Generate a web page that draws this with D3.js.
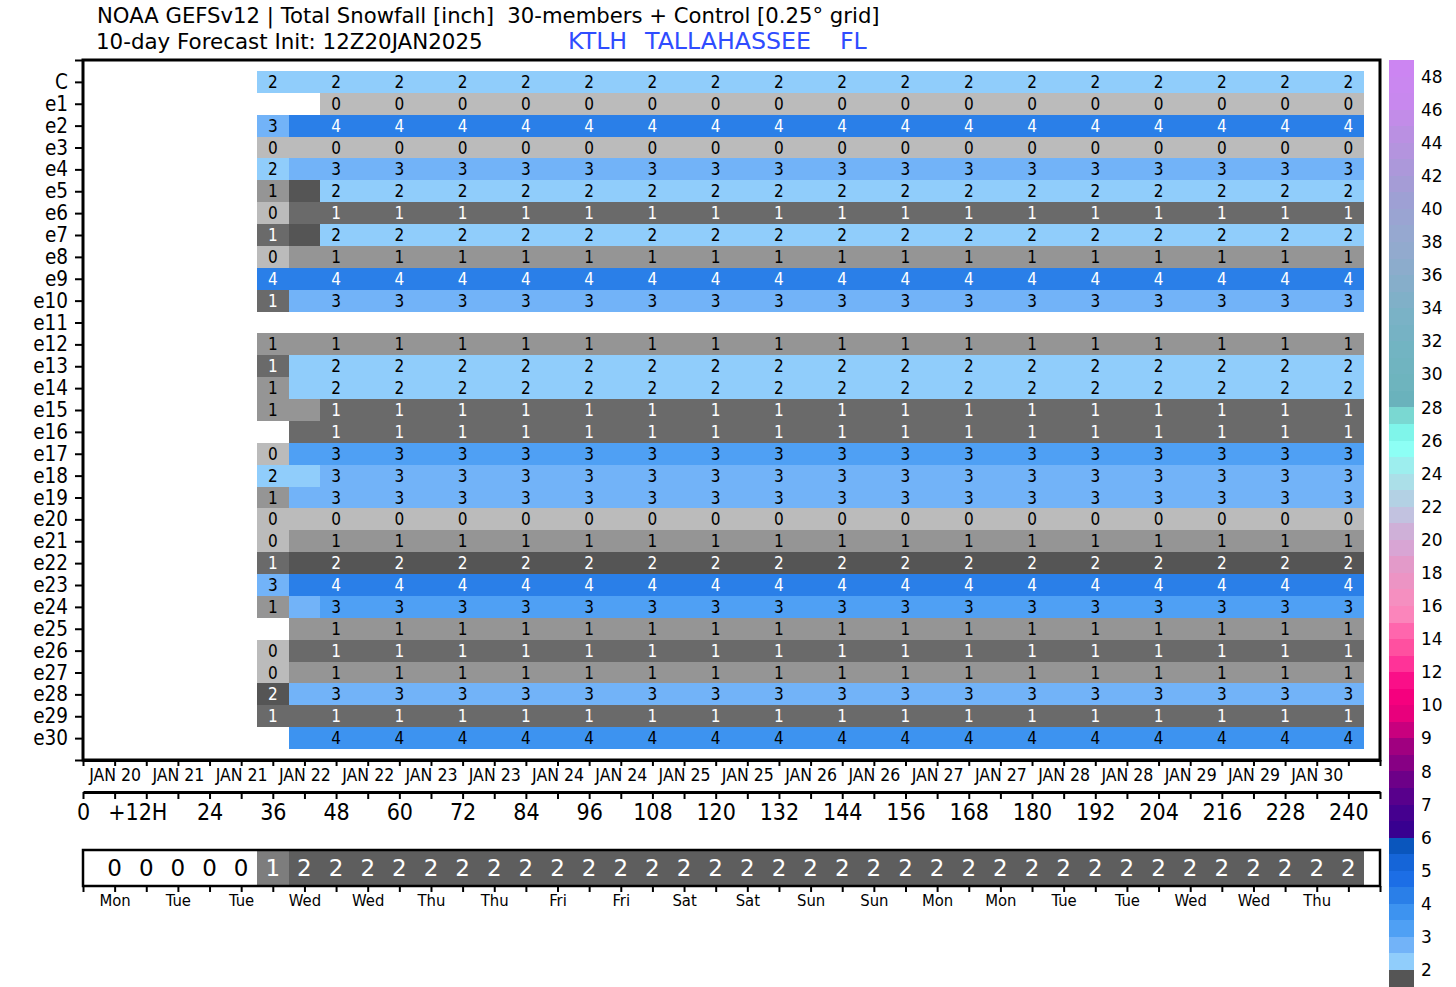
<!DOCTYPE html>
<html>
<head>
<meta charset="utf-8">
<script src="https://cdn.jsdelivr.net/npm/d3@7"></script>
<style>
  html, body { margin: 0; padding: 0; background: #fff; overflow: hidden; }
  svg { display: block; }
  text { font-family: "DejaVu Sans", sans-serif; fill: #000; }
  .cond text, text.cond { font-family: "DejaVu Sans Condensed", "DejaVu Sans", sans-serif; }
</style>
</head>
<body>
<svg id="chart" width="1456" height="987"></svg>
<script>
//data, forecast hour of each column
const hours = [36,42,48,54,60,66,72,78,84,90,96,102,108,114,120,126,132,138,144,150,156,162,168,174,180,186,192,198,204,210,216,222,228,234,240]
const members = ['C','e1','e2','e3','e4','e5','e6','e7','e8','e9','e10','e11','e12','e13','e14','e15','e16','e17','e18','e19','e20','e21','e22','e23','e24','e25','e26','e27','e28','e29','e30']

const eC  = [2.2,2.2,2.2,2.2,2.2,2.2,2.2,2.2,2.2,2.2,2.2,2.2,2.2,2.2,2.2,2.2,2.2,2.2,2.2,2.2,2.2,2.2,2.2,2.2,2.2,2.2,2.2,2.2,2.2,2.2,2.2,2.2,2.2,2.2,2.2]
const e1  = [null,null,.2,.2,.2,.2,.2,.2,.2,.2,.2,.2,.2,.2,.2,.2,.2,.2,.2,.2,.2,.2,.2,.2,.2,.2,.2,.2,.2,.2,.2,.2,.2,.2,.2]
const e2  = [2.7,4.2,4.2,4.2,4.2,4.2,4.2,4.2,4.2,4.2,4.2,4.2,4.2,4.2,4.2,4.2,4.2,4.2,4.2,4.2,4.2,4.2,4.2,4.2,4.2,4.2,4.2,4.2,4.2,4.2,4.2,4.2,4.2,4.2,4.2]
const e3  = [.2,.2,.2,.2,.2,.2,.2,.2,.2,.2,.2,.2,.2,.2,.2,.2,.2,.2,.2,.2,.2,.2,.2,.2,.2,.2,.2,.2,.2,.2,.2,.2,.2,.2,.2]
const e4  = [2.2,2.7,2.7,2.7,2.7,2.7,2.7,2.7,2.7,2.7,2.7,2.7,2.7,2.7,2.7,2.7,2.7,2.7,2.7,2.7,2.7,2.7,2.7,2.7,2.7,2.7,2.7,2.7,2.7,2.7,2.7,2.7,2.7,2.7,2.7]
const e5  = [.8,1.7,2.2,2.2,2.2,2.2,2.2,2.2,2.2,2.2,2.2,2.2,2.2,2.2,2.2,2.2,2.2,2.2,2.2,2.2,2.2,2.2,2.2,2.2,2.2,2.2,2.2,2.2,2.2,2.2,2.2,2.2,2.2,2.2,2.2]
const e6  = [.2,1.2,1.2,1.2,1.2,1.2,1.2,1.2,1.2,1.2,1.2,1.2,1.2,1.2,1.2,1.2,1.2,1.2,1.2,1.2,1.2,1.2,1.2,1.2,1.2,1.2,1.2,1.2,1.2,1.2,1.2,1.2,1.2,1.2,1.2]
const e7  = [1.2,1.7,2.2,2.2,2.2,2.2,2.2,2.2,2.2,2.2,2.2,2.2,2.2,2.2,2.2,2.2,2.2,2.2,2.2,2.2,2.2,2.2,2.2,2.2,2.2,2.2,2.2,2.2,2.2,2.2,2.2,2.2,2.2,2.2,2.2]
const e8  = [.2,.8,.8,.8,.8,.8,.8,.8,.8,.8,.8,.8,.8,.8,.8,.8,.8,.8,.8,.8,.8,.8,.8,.8,.8,.8,.8,.8,.8,.8,.8,.8,.8,.8,.8]
const e9  = [4.2,4.2,4.2,4.2,4.2,4.2,4.2,4.2,4.2,4.2,4.2,4.2,4.2,4.2,4.2,4.2,4.2,4.2,4.2,4.2,4.2,4.2,4.2,4.2,4.2,4.2,4.2,4.2,4.2,4.2,4.2,4.2,4.2,4.2,4.2]
const e10 = [1.2,2.7,2.7,2.7,2.7,2.7,2.7,2.7,2.7,2.7,2.7,2.7,2.7,2.7,2.7,2.7,2.7,2.7,2.7,2.7,2.7,2.7,2.7,2.7,2.7,2.7,2.7,2.7,2.7,2.7,2.7,2.7,2.7,2.7,2.7]
const e11 = []
const e12 = [.8,.8,.8,.8,.8,.8,.8,.8,.8,.8,.8,.8,.8,.8,.8,.8,.8,.8,.8,.8,.8,.8,.8,.8,.8,.8,.8,.8,.8,.8,.8,.8,.8,.8,.8]
const e13 = [1.2,2.2,2.2,2.2,2.2,2.2,2.2,2.2,2.2,2.2,2.2,2.2,2.2,2.2,2.2,2.2,2.2,2.2,2.2,2.2,2.2,2.2,2.2,2.2,2.2,2.2,2.2,2.2,2.2,2.2,2.2,2.2,2.2,2.2,2.2]
const e14 = [.8,2.2,2.2,2.2,2.2,2.2,2.2,2.2,2.2,2.2,2.2,2.2,2.2,2.2,2.2,2.2,2.2,2.2,2.2,2.2,2.2,2.2,2.2,2.2,2.2,2.2,2.2,2.2,2.2,2.2,2.2,2.2,2.2,2.2,2.2]
const e15 = [.8,.8,1.2,1.2,1.2,1.2,1.2,1.2,1.2,1.2,1.2,1.2,1.2,1.2,1.2,1.2,1.2,1.2,1.2,1.2,1.2,1.2,1.2,1.2,1.2,1.2,1.2,1.2,1.2,1.2,1.2,1.2,1.2,1.2,1.2]
const e16 = [null,1.2,1.2,1.2,1.2,1.2,1.2,1.2,1.2,1.2,1.2,1.2,1.2,1.2,1.2,1.2,1.2,1.2,1.2,1.2,1.2,1.2,1.2,1.2,1.2,1.2,1.2,1.2,1.2,1.2,1.2,1.2,1.2,1.2,1.2]
const e17 = [.2,3.2,3.2,3.2,3.2,3.2,3.2,3.2,3.2,3.2,3.2,3.2,3.2,3.2,3.2,3.2,3.2,3.2,3.2,3.2,3.2,3.2,3.2,3.2,3.2,3.2,3.2,3.2,3.2,3.2,3.2,3.2,3.2,3.2,3.2]
const e18 = [2.2,2.2,2.7,2.7,2.7,2.7,2.7,2.7,2.7,2.7,2.7,2.7,2.7,2.7,2.7,2.7,2.7,2.7,2.7,2.7,2.7,2.7,2.7,2.7,2.7,2.7,2.7,2.7,2.7,2.7,2.7,2.7,2.7,2.7,2.7]
const e19 = [.8,2.7,2.7,2.7,2.7,2.7,2.7,2.7,2.7,2.7,2.7,2.7,2.7,2.7,2.7,2.7,2.7,2.7,2.7,2.7,2.7,2.7,2.7,2.7,2.7,2.7,2.7,2.7,2.7,2.7,2.7,2.7,2.7,2.7,2.7]
const e20 = [.2,.2,.2,.2,.2,.2,.2,.2,.2,.2,.2,.2,.2,.2,.2,.2,.2,.2,.2,.2,.2,.2,.2,.2,.2,.2,.2,.2,.2,.2,.2,.2,.2,.2,.2]
const e21 = [.2,.8,.8,.8,.8,.8,.8,.8,.8,.8,.8,.8,.8,.8,.8,.8,.8,.8,.8,.8,.8,.8,.8,.8,.8,.8,.8,.8,.8,.8,.8,.8,.8,.8,.8]
const e22 = [1.2,1.7,1.7,1.7,1.7,1.7,1.7,1.7,1.7,1.7,1.7,1.7,1.7,1.7,1.7,1.7,1.7,1.7,1.7,1.7,1.7,1.7,1.7,1.7,1.7,1.7,1.7,1.7,1.7,1.7,1.7,1.7,1.7,1.7,1.7]
const e23 = [2.7,4.2,4.2,4.2,4.2,4.2,4.2,4.2,4.2,4.2,4.2,4.2,4.2,4.2,4.2,4.2,4.2,4.2,4.2,4.2,4.2,4.2,4.2,4.2,4.2,4.2,4.2,4.2,4.2,4.2,4.2,4.2,4.2,4.2,4.2]
const e24 = [.8,2.7,3.2,3.2,3.2,3.2,3.2,3.2,3.2,3.2,3.2,3.2,3.2,3.2,3.2,3.2,3.2,3.2,3.2,3.2,3.2,3.2,3.2,3.2,3.2,3.2,3.2,3.2,3.2,3.2,3.2,3.2,3.2,3.2,3.2]
const e25 = [null,.8,.8,.8,.8,.8,.8,.8,.8,.8,.8,.8,.8,.8,.8,.8,.8,.8,.8,.8,.8,.8,.8,.8,.8,.8,.8,.8,.8,.8,.8,.8,.8,.8,.8]
const e26 = [.2,1.2,1.2,1.2,1.2,1.2,1.2,1.2,1.2,1.2,1.2,1.2,1.2,1.2,1.2,1.2,1.2,1.2,1.2,1.2,1.2,1.2,1.2,1.2,1.2,1.2,1.2,1.2,1.2,1.2,1.2,1.2,1.2,1.2,1.2]
const e27 = [.2,.8,.8,.8,.8,.8,.8,.8,.8,.8,.8,.8,.8,.8,.8,.8,.8,.8,.8,.8,.8,.8,.8,.8,.8,.8,.8,.8,.8,.8,.8,.8,.8,.8,.8]
const e28 = [1.7,2.7,2.7,2.7,2.7,2.7,2.7,2.7,2.7,2.7,2.7,2.7,2.7,2.7,2.7,2.7,2.7,2.7,2.7,2.7,2.7,2.7,2.7,2.7,2.7,2.7,2.7,2.7,2.7,2.7,2.7,2.7,2.7,2.7,2.7]
const e29 = [1.2,1.2,1.2,1.2,1.2,1.2,1.2,1.2,1.2,1.2,1.2,1.2,1.2,1.2,1.2,1.2,1.2,1.2,1.2,1.2,1.2,1.2,1.2,1.2,1.2,1.2,1.2,1.2,1.2,1.2,1.2,1.2,1.2,1.2,1.2]
const e30 = [null,3.7,3.7,3.7,3.7,3.7,3.7,3.7,3.7,3.7,3.7,3.7,3.7,3.7,3.7,3.7,3.7,3.7,3.7,3.7,3.7,3.7,3.7,3.7,3.7,3.7,3.7,3.7,3.7,3.7,3.7,3.7,3.7,3.7,3.7]
const series = [eC,e1,e2,e3,e4,e5,e6,e7,e8,e9,e10,e11,e12,e13,e14,e15,e16,e17,e18,e19,e20,e21,e22,e23,e24,e25,e26,e27,e28,e29,e30]

//bottom strip
const stripHours = [6,12,18,24,30,36,42,48,54,60,66,72,78,84,90,96,102,108,114,120,126,132,138,144,150,156,162,168,174,180,186,192,198,204,210,216,222,228,234,240]
const stripValues = [0,0,0,0,0,1,2,2,2,2,2,2,2,2,2,2,2,2,2,2,2,2,2,2,2,2,2,2,2,2,2,2,2,2,2,2,2,2,2,2]

//tick labels
const dateLabels = ['JAN 20','JAN 21','JAN 21','JAN 22','JAN 22','JAN 23','JAN 23','JAN 24','JAN 24','JAN 25','JAN 25','JAN 26','JAN 26','JAN 27','JAN 27','JAN 28','JAN 28','JAN 29','JAN 29','JAN 30']
const dayLabels = ['Mon','Tue','Tue','Wed','Wed','Thu','Thu','Fri','Fri','Sat','Sat','Sun','Sun','Mon','Mon','Tue','Tue','Wed','Wed','Thu']
const hourLabels = ['0','+12H','24','36','48','60','72','84','96','108','120','132','144','156','168','180','192','204','216','228','240']

//colorbar
const barLevels = [1.5,2,2.5,3,3.5,4,4.5,5,5.5,6,6.5,7,7.5,8,8.5,9,9.5,10,11,12,13,14,15,16,17,18,19,20,21,22,23,24,25,26,27,28,29,30,31,32,33,34,35,36,37,38,39,40,41,42,43,44,45,46,47,48,49]
const barColors = ['#555555','#90cdfb','#72b3f8','#4fa0f4','#3d93f0','#2a7fe8','#1c6ee6','#1565d8','#0a56bd','#380090','#45008f','#58008c','#6d0088','#870084','#a00080','#c8007e','#e8007c','#f5007e','#fa0f88','#ff3398','#ff50a0','#ff66ad','#fb85bb','#f58fc0','#ec94c4','#e39ac9','#d8a5d4','#cfb0d8','#c2c2e0','#b3d1e4','#abdfe8','#9deeee','#8dfff5','#7ff5ea','#7ad8d2','#6ab2bc','#6eb4be','#70b4c0','#72b4c2','#76b2c4','#7ab2c6','#80b0c8','#86aeca','#8caccc','#92aace','#96a8d0','#9aa4d2','#9ea0d4','#a59cd6','#ac98da','#b494de','#ba90e2','#c28ce8','#c888ee','#ca87f0','#cc85f2']
const barTicks = [2,3,4,5,6,7,8,9,10,12,14,16,18,20,22,24,26,28,30,32,34,36,38,40,42,44,46,48]
const grays = ['#bbbbbb','#959595','#6a6a6a']

//scales
const x = d3.scaleLinear().domain([0, 246]).range([83, 1380])
const y = d3.scaleLinear().domain([-1, 31]).range([60, 760])
const barY = d3.scalePoint().domain(barLevels).range([986.5, 60])
const cellColor = d3.scaleThreshold()
    .domain([0.5, 1].concat(barLevels.slice(0, -1)))
    .range(grays.concat(barColors))
const stripColor = d3.scaleThreshold().domain([0.5, 1.5]).range(['#ffffff', '#7d7d7d', '#5e5e5e'])
const textColor = c => d3.lab(c).l < 56 ? '#fff' : '#000'

const svg = d3.select('#chart')

//title
svg.append('text').attr('x', 97).attr('y', 23).style('font-size', '21.2px')
    .attr('xml:space', 'preserve')
    .text('NOAA GEFSv12 | Total Snowfall [inch]  30-members + Control [0.25\u00b0 grid]')
svg.append('text').attr('x', 96).attr('y', 48.5).style('font-size', '21.4px')
    .text('10-day Forecast Init: 12Z20JAN2025')
const place = svg.append('text').attr('y', 48.5).style('font-size', '23.7px')
place.append('tspan').attr('x', 568).style('fill', '#2f4cff').text('KTLH')
place.append('tspan').attr('x', 645).style('fill', '#2f4cff').text('TALLAHASSEE')
place.append('tspan').attr('x', 840).style('fill', '#2f4cff').text('FL')

//heat cells
const cells = []
series.forEach((row, r) => row.forEach((v, i) => {
    if (v !== null) cells.push({ r: r, h: hours[i], v: v })
}))

svg.append('g').selectAll('rect')
    .data(cells)
    .enter()
    .append('rect')
    .attr('x', d => x(d.h - 3))
    .attr('width', d => x(d.h + 3) - x(d.h - 3))
    .attr('y', d => y(d.r - 0.5))
    .attr('height', d => y(d.r + 0.5) - y(d.r - 0.5))
    .attr('fill', d => cellColor(d.v))
    .attr('shape-rendering', 'crispEdges')

//only every second column is labelled
svg.append('g').attr('class', 'cond').selectAll('text')
    .data(cells.filter(d => d.h % 12 === 0))
    .enter()
    .append('text')
    .attr('x', d => x(d.h))
    .attr('y', d => y(d.r))
    .attr('dy', '0.36em')
    .attr('text-anchor', 'middle')
    .style('font-size', '17px')
    .style('fill', d => textColor(cellColor(d.v)))
    .text(d => Math.round(d.v))

//frame
svg.append('rect')
    .attr('x', x(0)).attr('y', y(-1))
    .attr('width', x(246) - x(0)).attr('height', y(31) - y(-1))
    .attr('fill', 'none').attr('stroke', '#000').attr('stroke-width', 3)

//axes
const styleAxis = (g, size) => {
    g.attr('class', 'cond')
    g.selectAll('path.domain').attr('stroke-width', 3)
    g.selectAll('line').attr('stroke-width', 2)
    g.selectAll('text').style('font-size', size + 'px').style('fill', '#000')
}

const sixHourly = d3.range(0, 252, 6)

const yAxis = d3.axisLeft(y)
    .tickValues(d3.range(-1, 32))
    .tickSize(8)
    .tickPadding(7)
    .tickFormat(i => members[i] || '')
svg.append('g').attr('transform', 'translate(' + x(0) + ',0)').call(yAxis)
    .call(g => g.select('path.domain').remove())
    .call(styleAxis, 20.5)

const dateAxis = d3.axisBottom(x)
    .tickValues(sixHourly)
    .tickSize(6)
    .tickSizeOuter(0)
    .tickPadding(3)
    .tickFormat(h => h % 12 === 6 ? dateLabels[(h - 6) / 12] || '' : '')
svg.append('g').attr('transform', 'translate(0,' + y(31) + ')').call(dateAxis)
    .call(styleAxis, 17.5)

const hourAxis = d3.axisBottom(x)
    .tickValues(sixHourly)
    .tickSize(7)
    .tickSizeOuter(0)
    .tickPadding(5)
    .tickFormat(h => h % 12 === 0 ? hourLabels[h / 12] || '' : '')
svg.append('g').attr('transform', 'translate(0,792)').call(hourAxis)
    .call(styleAxis, 23)
    .call(g => g.selectAll('.tick text').filter(h => h === 12).attr('dx', -9))

//bottom strip
const stripTop = 850
const stripBottom = 886
svg.append('g').selectAll('rect')
    .data(stripHours.map((h, i) => ({ h: h, v: stripValues[i] })))
    .enter()
    .append('rect')
    .attr('x', d => x(d.h - 3))
    .attr('width', d => x(d.h + 3) - x(d.h - 3))
    .attr('y', stripTop)
    .attr('height', stripBottom - stripTop)
    .attr('fill', d => stripColor(d.v))
    .attr('shape-rendering', 'crispEdges')
svg.append('g').selectAll('text')
    .data(stripHours.map((h, i) => ({ h: h, v: stripValues[i] })))
    .enter()
    .append('text')
    .attr('x', d => x(d.h))
    .attr('y', (stripTop + stripBottom) / 2)
    .attr('dy', '0.36em')
    .attr('text-anchor', 'middle')
    .style('font-size', '23px')
    .style('fill', d => d.v > 0 ? '#fff' : '#000')
    .text(d => d.v)
svg.append('rect')
    .attr('x', x(0)).attr('y', stripTop)
    .attr('width', x(246) - x(0)).attr('height', stripBottom - stripTop)
    .attr('fill', 'none').attr('stroke', '#000').attr('stroke-width', 2.5)

const dayAxis = d3.axisBottom(x)
    .tickValues(sixHourly)
    .tickSize(6)
    .tickSizeOuter(0)
    .tickPadding(2)
    .tickFormat(h => h % 12 === 6 ? dayLabels[(h - 6) / 12] || '' : '')
svg.append('g').attr('transform', 'translate(0,' + stripBottom + ')').call(dayAxis)
    .call(styleAxis, 16.5)
    .call(g => g.select('path.domain').remove())

//colorbar
svg.append('g').selectAll('rect')
    .data(barColors)
    .enter()
    .append('rect')
    .attr('x', 1389)
    .attr('width', 25)
    .attr('y', (_, i) => barY(barLevels[i + 1]))
    .attr('height', (_, i) => barY(barLevels[i]) - barY(barLevels[i + 1]))
    .attr('fill', d => d)
    .attr('shape-rendering', 'crispEdges')
svg.append('g').selectAll('text')
    .data(barTicks)
    .enter()
    .append('text')
    .attr('x', 1421)
    .attr('y', d => barY(d))
    .attr('dy', '0.36em')
    .style('font-size', '17px')
    .text(d => d)
</script>
</body>
</html>
